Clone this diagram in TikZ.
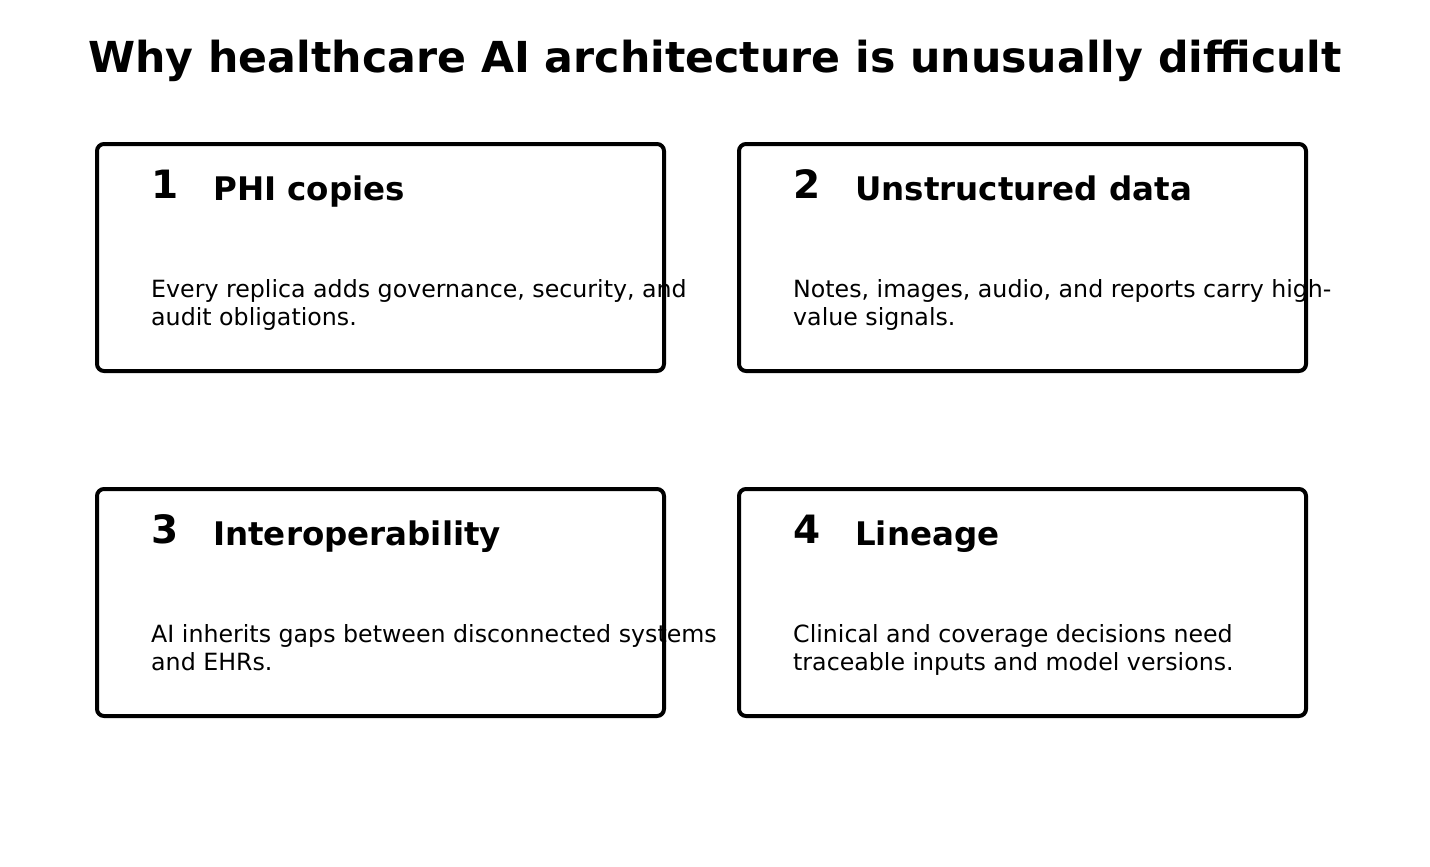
\documentclass[tikz,border=0pt]{standalone}
\usepackage{fontspec}
\setmainfont{DejaVu Sans}
\begin{document}
\begin{tikzpicture}[x=1pt,y=-1pt,
  card/.style={draw,line width=4pt,rounded corners=7pt},
  num/.style={anchor=base west,inner sep=0,font=\bfseries\fontsize{39}{44}\selectfont},
  head/.style={anchor=base west,inner sep=0,font=\bfseries\fontsize{32.5}{38}\selectfont},
  body/.style={anchor=base west,inner sep=0,align=left,font=\fontsize{23.7}{28}\selectfont}]
\useasboundingbox (0,0) rectangle (1430,867);
\node[inner sep=0,anchor=base,font=\bfseries\fontsize{42.7}{48}\selectfont] (title) at (715,73) {Why healthcare AI architecture is unusually difficult};
\foreach \i/\x/\y/\h/\a/\b in {
 1/97/144/PHI copies/{Every replica adds governance, security, and}/{audit obligations.},
 2/739/144/Unstructured data/{Notes, images, audio, and reports carry high-}/{value signals.},
 3/97/489/Interoperability/{AI inherits gaps between disconnected systems}/{and EHRs.},
 4/739/489/Lineage/{Clinical and coverage decisions need}/{traceable inputs and model versions.}}{
 \draw[card] (\x,\y) rectangle ++(567,227);
 \node[num] (n\i) at (\x+54,\y+54) {\i};
 \node[head] (h\i) at (\x+116,\y+56) {\h};
 \node[body] (b\i) at (\x+54,\y+181) {\a\\\b};
}
\end{tikzpicture}
\end{document}
